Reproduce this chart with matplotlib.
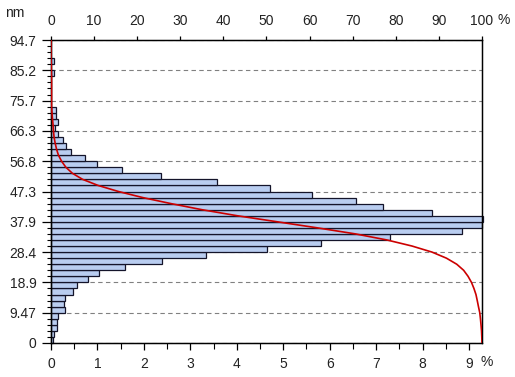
import matplotlib
matplotlib.use("Agg")
import matplotlib.pyplot as plt
import numpy as np

plt.rcParams['font.family'] = ['Liberation Sans', 'DejaVu Sans']

# --- data ---
size_max = 94.7          # nm
n_bins = 50
# percentage per bin, from 0 nm upwards
freq = [0.05, 0.06, 0.12, 0.13, 0.16, 0.30, 0.28, 0.30, 0.47, 0.57,
        0.79, 1.03, 1.60, 2.39, 3.34, 4.64, 5.81, 7.29, 8.84, 9.29,
        9.30, 8.20, 7.15, 6.57, 5.63, 4.72, 3.58, 2.37, 1.52, 1.00,
        0.73, 0.44, 0.32, 0.25, 0.14, 0.09, 0.14, 0.11, 0.11, 0.00,
        0.00, 0.00, 0.00, 0.00, 0.06, 0.00, 0.06, 0.00, 0.00, 0.00]
ytick_labels = ["0", "9.47", "18.9", "28.4", "37.9", "47.3",
                "56.8", "66.3", "75.7", "85.2", "94.7"]
bottom_ticks = list(range(0, 10))
top_ticks = list(range(0, 101, 10))

edges = np.linspace(0, size_max, n_bins + 1)
width = edges[1] - edges[0]
freq = np.array(freq)

# cumulative % of particles larger than the size (from the top down)
above = np.concatenate([np.cumsum(freq[::-1])[::-1], [0.0]])
above = above / above[0] * 100

fig = plt.figure(figsize=(5.15, 3.77), dpi=100)
ax = fig.add_axes([51 / 515, 1 - 343 / 377, 431 / 515, 303 / 377])

txt = '#222222'
fs = 10
ax.barh(edges[:-1], freq, height=width, align='edge', color='#b9cdf0',
        edgecolor='#14142a', linewidth=0.9, zorder=2, clip_on=False)

ax.set_ylim(0, size_max)
ax.set_xlim(0, 9.28)
ax.set_yticks(edges[::5])
ax.set_yticklabels(ytick_labels)
ax.set_yticks(edges, minor=True)
ax.set_xticks(bottom_ticks)
ax.set_xticks(np.arange(0.5, 9.3, 1.0), minor=True)

ax.grid(axis='y', which='major', color='#808080', linestyle=(0, (4, 3)),
        linewidth=0.8, zorder=0)
ax.set_axisbelow(True)

ax.tick_params(axis='y', which='major', length=6.5, width=0.9, pad=4,
               labelsize=fs, labelcolor=txt)
ax.tick_params(axis='y', which='minor', length=3, width=0.8)
ax.tick_params(axis='x', which='major', length=5, width=0.9, pad=5,
               labelsize=fs, labelcolor=txt)
ax.tick_params(axis='x', which='minor', length=4, width=0.8)
for s in ax.spines.values():
    s.set_linewidth(1.0)

# top axis for the cumulative curve
ax2 = ax.twiny()
ax2.set_xlim(0, 100)
ax2.set_xticks(top_ticks)
ax2.tick_params(axis='x', length=3, width=0.9, pad=5.5, labelsize=fs,
                labelcolor=txt)
ax2.plot(above, edges, color='#cc0000', linewidth=1.2, zorder=3)
ax2.set_ylim(0, size_max)

fig.text(15 / 515, 1 - 13 / 377, "nm", fontsize=fs, color=txt,
         ha='center', va='center')
fig.text(504 / 515, 1 - 20 / 377, "%", fontsize=fs, color=txt,
         ha='center', va='center')
fig.text(487 / 515, 1 - 362 / 377, "%", fontsize=fs, color=txt,
         ha='center', va='center')

fig.savefig("out.png", dpi=100)
